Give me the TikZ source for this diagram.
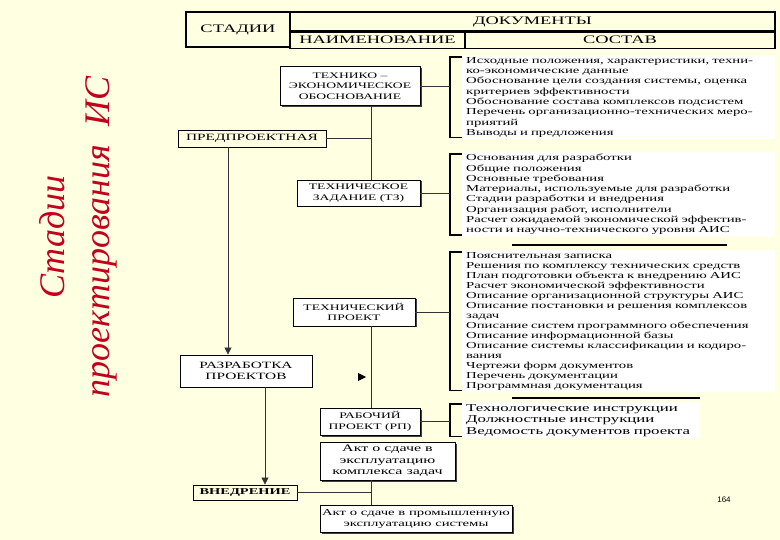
\documentclass[tikz,border=0pt]{standalone}
\usepackage{fontspec}
\setmainfont{Liberation Serif}[FakeStretch=1.6]
\newfontfamily\titlefont{Liberation Serif}
\newfontfamily\numfont{Liberation Sans}
\usetikzlibrary{
  arrows.meta
  , shadows
  , calc
}
\definecolor{bg}{HTML}{FFFFE1}
\definecolor{titlered}{HTML}{C0001C}

\tikzset{
  hdrbox/.style={draw, line width=1.2pt, inner sep=0pt, font=\fontsize{11.5}{12}\selectfont},
  stagebox/.style={draw, line width=0.9pt, inner sep=0pt, align=center, font=\fontsize{9}{10.5}\selectfont},
  docbox/.style={draw, fill=white, inner sep=0pt, align=center,
    font=\fontsize{8.5}{10.5}\selectfont,
    drop shadow={shadow xshift=1.5pt, shadow yshift=-1.5pt, fill=black!75, opacity=1}},
  listbox/.style={fill=white, anchor=north west, inner xsep=4pt, inner ysep=2pt,
    align=left, text width=305pt, font=\fontsize{9.2}{10.3}\selectfont},
  link/.style={line width=0.8pt, black!80},
  brk/.style={line width=1.2pt},
  sepline/.style={line width=1.4pt},
  arr/.style={link, -{Triangle[length=7pt, width=7pt]}},
}

\begin{document}
\begin{tikzpicture}[x=1pt, y=-1pt]
  \useasboundingbox[fill=bg] (0,0) rectangle (780,540);

  % title
  \node[rotate=90, align=center, text=titlered,
    font=\titlefont\itshape\fontsize{36}{45}\selectfont] (title) at (78,237)
    {Стадии\\проектирования~~ИС};

  % header
  \node[hdrbox, minimum width=104pt, minimum height=35pt] (stadii) at (238,29.5) {СТАДИИ};
  \node[hdrbox, minimum width=485pt, minimum height=19pt] (docs) at (532.5,21.5) {ДОКУМЕНТЫ};
  \node[hdrbox, minimum width=175pt, minimum height=16pt, anchor=north west] (naim) at (docs.south west) {НАИМЕНОВАНИЕ};
  \node[hdrbox, minimum width=310pt, minimum height=16pt, anchor=north east] (sostav) at (docs.south east) {СОСТАВ};

  % stages
  \node[stagebox, font=\fontsize{9.6}{10.5}\selectfont, minimum width=148pt, minimum height=17pt] (preproj) at (252,138.5) {ПРЕДПРОЕКТНАЯ};
  \node[stagebox, fill=white, font=\fontsize{9.6}{11}\selectfont, minimum width=132pt, minimum height=32pt] (razr) at (246,371) {РАЗРАБОТКА\\ПРОЕКТОВ};
  \node[stagebox, font=\bfseries\fontsize{9}{10.5}\selectfont, minimum width=104pt, minimum height=15pt] (vnedr) at (245,492.5) {ВНЕДРЕНИЕ};

  % documents
  \node[docbox, minimum width=140pt, minimum height=39pt] (teo) at (350,86) {ТЕХНИКО –\\ЭКОНОМИЧЕСКОЕ\\ОБОСНОВАНИЕ};
  \node[docbox, minimum width=123pt, minimum height=26pt] (tz) at (358.5,193) {ТЕХНИЧЕСКОЕ\\ЗАДАНИЕ (ТЗ)};
  \node[docbox, minimum width=122pt, minimum height=28pt] (tp) at (354,312) {ТЕХНИЧЕСКИЙ\\ПРОЕКТ};
  \node[docbox, minimum width=100pt, minimum height=27pt] (rp) at (370,421.5) {РАБОЧИЙ\\ПРОЕКТ (РП)};
  \node[docbox, drop shadow={opacity=0}, font=\fontsize{10}{11.5}\selectfont,
    minimum width=135pt, minimum height=38pt] (akt1) at (387.5,461) {Акт о сдаче в\\эксплуатацию\\комплекса задач};
  \node[docbox, drop shadow={opacity=0}, font=\fontsize{9.2}{11}\selectfont,
    minimum width=192pt, minimum height=27pt] (akt2) at (416,518.5) {Акт о сдаче в промышленную\\эксплуатацию системы};

  % contents
  \node[listbox] (teolist) at (462,55) {Исходные положения, характеристики, техни-\\
    ко-экономические данные\\
    Обоснование цели создания системы, оценка\\
    критериев эффективности\\
    Обоснование состава комплексов подсистем\\
    Перечень организационно-технических меро-\\
    приятий\\
    Выводы и предложения};
  \node[listbox] (tzlist) at (462,152) {Основания для разработки\\
    Общие положения\\
    Основные требования\\
    Материалы, используемые для разработки\\
    Стадии разработки и внедрения\\
    Организация работ, исполнители\\
    Расчет ожидаемой экономической эффектив-\\
    ности и научно-технического уровня АИС};
  \node[listbox, font=\fontsize{9.2}{10}\selectfont] (tplist) at (462,250) {Пояснительная записка\\
    Решения по комплексу технических средств\\
    План подготовки объекта к внедрению АИС\\
    Расчет экономической эффективности\\
    Описание организационной структуры АИС\\
    Описание постановки и решения комплексов\\
    задач\\
    Описание систем программного обеспечения\\
    Описание информационной базы\\
    Описание системы классификации и кодиро-\\
    вания\\
    Чертежи форм документов\\
    Перечень документации\\
    Программная документация};
  \node[listbox, text width=230pt, font=\fontsize{10.5}{11.5}\selectfont] (rplist) at (462,402) {Технологические инструкции\\
    Должностные инструкции\\
    Ведомость документов проекта};

  \draw[sepline] (512,245) -- (727,245);
  \draw[sepline] (512,398) -- (700,398);

  % brackets
  \foreach \doc/\lst in {teo/teolist, tz/tzlist, tp/tplist, rp/rplist}{
    \draw[brk] ([yshift=-2pt]\lst.north west) -| ([xshift=-12pt,yshift=2pt]\lst.south west) -- ([yshift=2pt]\lst.south west);
    \coordinate (b\lst) at ([xshift=-12pt]\lst.west);
    \draw[link] (\doc.east) -- (\doc.east -| b\lst);
  }

  % lines
  \coordinate (vline) at (371,0);
  \coordinate (lline) at (228,0);
  \coordinate (mline) at (265,0);
  \draw[link] (teo.south -| vline) -- (tz.north -| vline);
  \draw[link] (preproj.east) -- (preproj.east -| vline);
  \draw[arr] (preproj.south -| lline) -- (razr.north -| lline);
  \draw[link] (tp.south -| vline) -- (rp.north -| vline);
  \draw[arr] (razr.south -| mline) -- (vnedr.north -| mline);
  \draw[link] (vnedr.east) -- (vnedr.east -| vline);
  \draw[link] (akt1.south -| vline) -- (akt2.north -| vline);

  \fill (358,373) -- (366,377) -- (358,381) -- cycle;

  \node[font=\numfont\fontsize{8}{9}\selectfont] (page) at (724,500) {164};
\end{tikzpicture}
\end{document}
